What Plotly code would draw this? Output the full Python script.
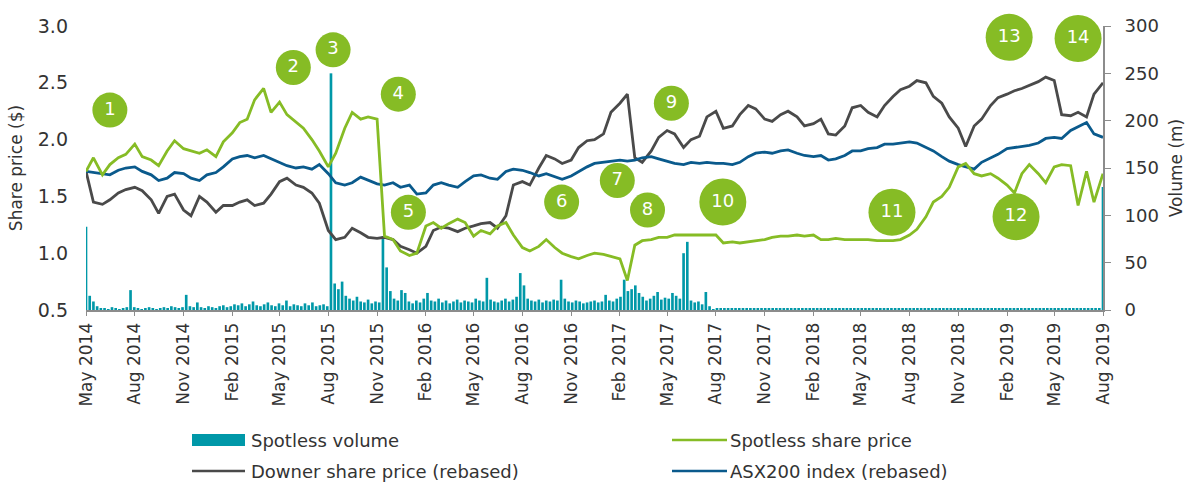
import pandas as pd
import plotly.graph_objects as go

# semi-monthly price points (1st and 15th), May 2014 - Aug 2019
price_dates = pd.date_range("2014-05-01", "2019-08-01", freq="SMS")

spotless_price = [
    1.72, 1.84, 1.69, 1.78, 1.84, 1.87, 1.96, 1.85, 1.82, 1.77, 1.90, 1.99, 1.92, 1.90, 1.88, 1.91,
    1.85, 1.98, 2.06, 2.15, 2.18, 2.35, 2.45, 2.24, 2.33, 2.22, 2.15, 2.10, 2.00, 1.90, 1.76, 1.88,
    2.10, 2.24, 2.18, 2.20, 2.18, 1.15, 1.12, 1.02,
    0.98, 1.00, 1.24, 1.27, 1.22, 1.26, 1.30, 1.27, 1.15, 1.20, 1.17, 1.24, 1.27, 1.16, 1.05, 1.02,
    1.06, 1.12, 1.05, 1.00, 0.97, 0.95, 0.98, 1.00,
    0.99, 0.97, 0.95, 0.76, 1.07, 1.11, 1.12, 1.14, 1.14, 1.16, 1.16, 1.16, 1.16, 1.16, 1.16, 1.09,
    1.10, 1.09, 1.10, 1.11, 1.12, 1.14, 1.15, 1.15,
    1.16, 1.15, 1.16, 1.12, 1.12, 1.13, 1.12, 1.12, 1.12, 1.12, 1.11, 1.11, 1.11, 1.12, 1.16, 1.21,
    1.32, 1.45, 1.50, 1.58, 1.76, 1.79, 1.70, 1.68,
    1.70, 1.66, 1.60, 1.53, 1.70, 1.78, 1.70, 1.62, 1.76, 1.78, 1.77, 1.42, 1.72, 1.45, 1.70,
]

asx200_rebased = [
    1.72, 1.71, 1.70, 1.69, 1.73, 1.75, 1.76, 1.72, 1.69, 1.64, 1.66, 1.71, 1.70, 1.66, 1.64, 1.69,
    1.71, 1.76, 1.83, 1.85, 1.86, 1.84, 1.86, 1.83, 1.80, 1.77, 1.75, 1.76, 1.74, 1.78, 1.70, 1.62,
    1.60, 1.62, 1.67, 1.64, 1.61, 1.60, 1.62, 1.58,
    1.60, 1.52, 1.53, 1.60, 1.62, 1.60, 1.58, 1.63, 1.68, 1.69, 1.66, 1.65, 1.72, 1.74, 1.73, 1.71,
    1.68, 1.70, 1.67, 1.65, 1.68, 1.72, 1.76, 1.79,
    1.80, 1.81, 1.82, 1.81, 1.82, 1.84, 1.85, 1.83, 1.81, 1.79, 1.78, 1.80, 1.79, 1.80, 1.79, 1.79,
    1.78, 1.80, 1.85, 1.88, 1.89, 1.88, 1.90, 1.91,
    1.88, 1.86, 1.85, 1.86, 1.82, 1.83, 1.86, 1.90, 1.90, 1.92, 1.93, 1.96, 1.96, 1.97, 1.98, 1.97,
    1.93, 1.90, 1.85, 1.81, 1.78, 1.76, 1.74, 1.80,
    1.84, 1.87, 1.92, 1.93, 1.94, 1.95, 1.97, 2.01, 2.02, 2.01, 2.08, 2.11, 2.15, 2.05, 2.02,
]

downer_rebased = [
    1.72, 1.45, 1.43, 1.47, 1.53, 1.56, 1.58, 1.55, 1.47, 1.35, 1.50, 1.52, 1.38, 1.33, 1.50, 1.45,
    1.36, 1.42, 1.42, 1.45, 1.47, 1.42, 1.44, 1.52, 1.63, 1.66, 1.60, 1.58, 1.53, 1.44, 1.20, 1.12,
    1.14, 1.22, 1.18, 1.14, 1.13, 1.14, 1.12, 1.06,
    1.03, 1.00, 1.06, 1.20, 1.23, 1.22, 1.19, 1.22, 1.24, 1.26, 1.27, 1.22, 1.33, 1.60, 1.63, 1.60,
    1.75, 1.86, 1.83, 1.79, 1.82, 1.93, 1.99, 2.00,
    2.05, 2.24, 2.32, 2.40, 1.84, 1.80, 1.90, 2.02, 2.08, 2.05, 1.93, 2.00, 2.03, 2.20, 2.25, 2.10,
    2.12, 2.22, 2.30, 2.27, 2.18, 2.16, 2.22, 2.25,
    2.20, 2.12, 2.14, 2.18, 2.05, 2.04, 2.12, 2.28, 2.30, 2.24, 2.20, 2.30, 2.38, 2.44, 2.47, 2.52,
    2.50, 2.38, 2.32, 2.20, 2.10, 1.94, 2.12, 2.18,
    2.30, 2.37, 2.40, 2.43, 2.45, 2.48, 2.51, 2.55, 2.52, 2.22, 2.21, 2.24, 2.20, 2.40, 2.50,
]

# weekly Spotless volume (m), from 1 May 2014
vol_dates = pd.date_range("2014-05-01", "2019-08-01", freq="7D")
spotless_volume = [
    88, 15, 9, 4, 2, 2, 1, 3, 2, 1, 2, 3, 21, 3, 2, 1, 2, 3, 2, 1,
    2, 3, 2, 4, 3, 2, 3, 16, 4, 3, 8, 3, 2, 4, 3, 2, 4, 5, 3, 4,
    6, 5, 7, 4, 6, 9, 5, 4, 6, 8, 5, 4, 7, 5, 10, 4, 6, 5, 4, 7,
    5, 8, 4, 5, 6, 4, 250, 28, 22, 30, 15, 12, 10, 14, 9, 8, 11, 7, 9, 8,
    78, 45, 20, 12, 10, 21, 18, 9, 7, 10, 8, 12, 18, 10, 9, 12, 8, 10, 7, 9,
    11, 8, 10, 9, 8, 12, 10, 9, 34, 11, 9, 8, 10, 12, 9, 11, 14, 39, 26, 12,
    10, 9, 11, 8, 10, 9, 11, 10, 32, 12, 9, 8, 10, 9, 7, 8, 9, 10, 8, 9,
    16, 10, 9, 12, 14, 32, 20, 22, 26, 18, 14, 10, 12, 15, 19, 11, 13, 12, 18, 15,
    12, 60, 72, 10, 8, 9, 6, 19, 4, 1,
    1.5, 1.5, 1.5, 1.5, 1.5, 1.5, 1.5, 1.5, 1.5, 1.5, 1.5, 1.5, 1.5, 1.5, 1.5, 1.5, 1.5, 1.5, 1.5, 1.5,
    1.5, 1.5, 1.5, 1.5, 1.5, 1.5, 1.5, 1.5, 1.5, 1.5, 1.5, 1.5, 1.5, 1.5, 1.5, 1.5, 1.5, 1.5, 1.5, 1.5,
    1.5, 1.5, 1.5, 1.5, 1.5, 1.5, 1.5, 1.5, 1.5, 1.5, 1.5, 1.5, 1.5, 1.5, 1.5, 1.5, 1.5, 1.5, 1.5, 1.5,
    1.5, 1.5, 1.5, 1.5, 1.5, 1.5, 1.5, 1.5, 1.5, 1.5, 1.5, 1.5, 1.5, 1.5, 1.5, 1.5, 1.5, 1.5, 1.5, 1.5,
    1.5, 1.5, 1.5, 1.5, 1.5, 1.5, 1.5, 1.5, 1.5, 1.5, 1.5, 1.5, 1.5, 1.5, 1.5, 1.5, 1.5, 1.5, 1.5, 1.5,
    1.5, 1.5, 1.5, 1.5, 130,
]

# numbered event markers (placed in date / share price space)
event_labels = ["1", "2", "3", "4", "5", "6", "7", "8", "9", "10", "11", "12", "13", "14"]
event_dates = ["2014-06-15", "2015-05-27", "2015-08-10", "2015-12-11", "2015-12-30",
               "2016-10-14", "2017-01-27", "2017-03-25", "2017-05-09", "2017-08-14",
               "2018-06-29", "2019-02-18", "2019-02-05", "2019-06-15"]
event_prices = [2.26, 2.635, 2.79, 2.40, 1.36, 1.45, 1.64, 1.38, 2.32, 1.45,
                1.36, 1.32, 2.90, 2.89]

TEAL = "#0098a8"
GREEN = "#86bc25"
GREY = "#4a4a4a"
BLUE = "#0a5a8c"
AXIS = "#8c8c8c"
TXT = "#333333"
FONT = "DejaVu Sans"

fig = go.Figure()

fig.add_trace(go.Bar(
    x=vol_dates, y=spotless_volume, width=5 * 86400000,
    marker=dict(color=TEAL, line=dict(width=0)), yaxis="y", name="Spotless volume",
))
fig.add_trace(go.Scatter(x=price_dates, y=downer_rebased, mode="lines", yaxis="y2",
                         line=dict(color=GREY, width=2.8), name="Downer share price (rebased)"))
fig.add_trace(go.Scatter(x=price_dates, y=asx200_rebased, mode="lines", yaxis="y2",
                         line=dict(color=BLUE, width=2.8), name="ASX200 index (rebased)"))
fig.add_trace(go.Scatter(x=price_dates, y=spotless_price, mode="lines", yaxis="y2",
                         line=dict(color=GREEN, width=2.8), name="Spotless share price"))

fig.add_trace(go.Scatter(
    x=event_dates, y=event_prices, mode="markers+text", yaxis="y2",
    text=event_labels, textposition="middle center",
    textfont=dict(color="white", size=18, family=FONT),
    marker=dict(color=GREEN, opacity=1, line=dict(width=0),
                size=[35 if len(t) == 1 else 47 for t in event_labels]),
    cliponaxis=False,
))

# plot area in pixels: x 86..1103, y 26..310
def px(x):
    return (x - 86) / 1017


def py(y):
    return (310 - y) / 284


shapes = [
    dict(type="rect", xref="paper", yref="paper", x0=px(192), x1=px(245), y0=py(446), y1=py(434),
         fillcolor=TEAL, line=dict(width=0)),
    dict(type="line", xref="paper", yref="paper", x0=px(192), x1=px(245), y0=py(471), y1=py(471),
         line=dict(color=GREY, width=2.5)),
    dict(type="line", xref="paper", yref="paper", x0=px(672), x1=px(727), y0=py(440), y1=py(440),
         line=dict(color=GREEN, width=2.5)),
    dict(type="line", xref="paper", yref="paper", x0=px(672), x1=px(727), y0=py(471), y1=py(471),
         line=dict(color=BLUE, width=2.5)),
]
legend_text = [
    ("Spotless volume", 249, 440),
    ("Downer share price (rebased)", 249, 471),
    ("Spotless share price", 728, 440),
    ("ASX200 index (rebased)", 728, 471),
]
annotations = [
    dict(text=t, xref="paper", yref="paper", x=px(x), y=py(y), xanchor="left", yanchor="middle",
         showarrow=False, font=dict(size=18, color=TXT, family=FONT))
    for t, x, y in legend_text
]

fig.update_layout(
    width=1186, height=483,
    margin=dict(l=86, r=83, t=26, b=173),
    paper_bgcolor="white", plot_bgcolor="white",
    showlegend=False,
    font=dict(family=FONT, size=18, color=TXT),
    xaxis=dict(
        type="date", range=["2014-05-01", "2019-08-01"], automargin=False,
        tick0="2014-05-01", dtick="M3", tickformat="%b %Y", tickangle=-90,
        tickfont=dict(size=17),
        showline=True, linecolor=AXIS, linewidth=2, ticks="outside", ticklen=4,
        tickcolor=AXIS, showgrid=False, zeroline=False, layer="below traces",
    ),
    yaxis=dict(
        side="right", range=[0, 300], dtick=50, automargin=False,
        showline=True, linecolor=AXIS, linewidth=2, tickfont=dict(size=18),
        ticks="outside", ticklen=6, tickcolor=AXIS, showgrid=False, zeroline=False,
        ticklabelstandoff=10,
        title=dict(text="Volume (m)", standoff=12, font=dict(size=17)),
    ),
    yaxis2=dict(
        overlaying="y", side="left", range=[0.5, 3.0], dtick=0.5, tickformat=".1f",
        automargin=False, tickfont=dict(size=19),
        showline=False, ticks="", showgrid=False, zeroline=False, ticklabelstandoff=17,
        title=dict(text="Share price ($)", standoff=10, font=dict(size=17)),
    ),
    shapes=shapes,
    annotations=annotations,
)

# the page is photographed edge to edge, so drop the default body margin
fig.write_html(
    "out.html",
    config={"displayModeBar": False},
    post_script="document.body.style.margin = '0';",
)
